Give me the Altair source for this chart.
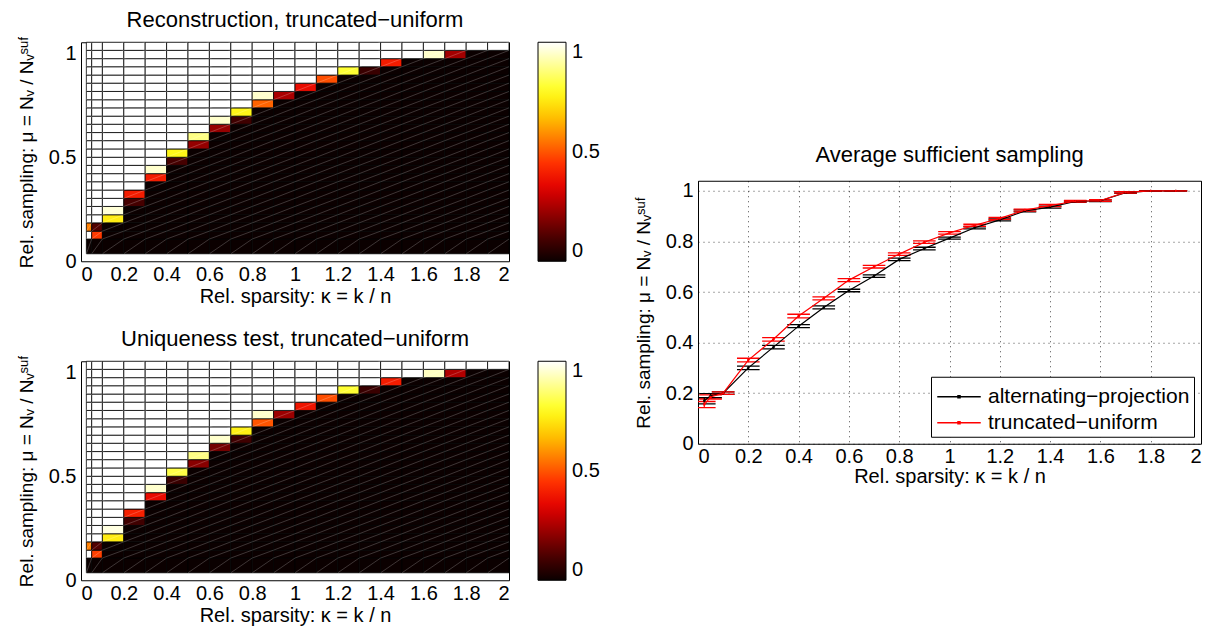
import altair as alt
import pandas as pd

FONT = "Liberation Sans"

# ---------------- heatmap grid (cell edges) ----------------
x_edges = [0.025, 0.05, 0.1, 0.2, 0.3, 0.4, 0.5, 0.6, 0.7, 0.8, 0.9, 1.0,
           1.1, 1.2, 1.3, 1.4, 1.5, 1.6, 1.7, 1.8, 1.9, 2.0]
y_edges = [0.036, 0.107, 0.145, 0.185, 0.224, 0.264, 0.303, 0.343, 0.383,
           0.422, 0.462, 0.501, 0.541, 0.581, 0.620, 0.660, 0.699, 0.739,
           0.778, 0.818, 0.858, 0.897, 0.937, 0.976, 1.016, 1.055]

# per column: first row index from which the success rate is 1 (below: 0)
recon_threshold = [1, 3, 5, 7, 10, 12, 14, 16, 17, 19, 19, 20, 21, 22, 22,
                   23, 23, 24, 24, 24, 24]
# partial-success cells: column index, row index, value
recon_col = [0, 1, 1, 2, 2, 3, 3, 4, 4, 5, 5, 6, 6, 7, 7, 8, 8, 9, 9, 10,
             11, 12, 13, 14, 15, 17, 18]
recon_row = [2, 1, 2, 3, 4, 5, 6, 8, 9, 10, 11, 12, 13, 14, 15, 15, 16, 17,
             18, 18, 19, 20, 21, 21, 22, 23, 23]
recon_val = [0.56, 0.46, 0.12, 0.74, 0.96, 0.10, 0.40, 0.40, 0.95, 0.10,
             0.76, 0.22, 0.88, 0.22, 0.95, 0.09, 0.76, 0.52, 0.95, 0.25,
             0.36, 0.49, 0.80, 0.08, 0.40, 0.95, 0.24]

uniq_threshold = [1, 3, 5, 7, 10, 12, 14, 16, 17, 19, 19, 20, 21, 22, 22,
                  23, 23, 24, 24, 24, 24]
uniq_col = [0, 1, 1, 2, 2, 3, 3, 4, 4, 5, 5, 6, 6, 7, 7, 8, 8, 9, 9, 10,
            11, 12, 13, 14, 15, 17, 18]
uniq_row = [2, 1, 2, 3, 4, 5, 6, 8, 9, 10, 11, 12, 13, 14, 15, 15, 16, 17,
            18, 18, 19, 20, 21, 21, 22, 23, 23]
uniq_val = [0.56, 0.47, 0.12, 0.74, 0.97, 0.09, 0.41, 0.36, 0.95, 0.08,
            0.82, 0.20, 0.88, 0.17, 0.95, 0.09, 0.75, 0.50, 0.95, 0.23,
            0.38, 0.49, 0.80, 0.08, 0.40, 0.94, 0.26]

# ---------------- average sufficient sampling ----------------
kappa = [0.025, 0.05, 0.1, 0.2, 0.3, 0.4, 0.5, 0.6, 0.7, 0.8, 0.9, 1.0,
         1.1, 1.2, 1.3, 1.4, 1.5, 1.6, 1.7, 1.8, 1.9]
ap_mu = [0.170, 0.190, 0.200, 0.300, 0.382, 0.465, 0.539, 0.606, 0.663,
         0.729, 0.772, 0.813, 0.854, 0.885, 0.921, 0.936, 0.958, 0.961,
         0.993, 1.000, 1.000]
ap_err = [0.012, 0.008, 0.005, 0.007, 0.007, 0.006, 0.006, 0.005, 0.005,
          0.005, 0.005, 0.004, 0.004, 0.004, 0.004, 0.004, 0.003, 0.003,
          0.003, 0.001, 0.000]
tu_mu = [0.155, 0.185, 0.200, 0.331, 0.413, 0.505, 0.575, 0.647, 0.700,
         0.750, 0.797, 0.834, 0.864, 0.891, 0.924, 0.942, 0.959, 0.962,
         0.994, 1.000, 1.000]
tu_err = [0.012, 0.008, 0.005, 0.007, 0.007, 0.007, 0.006, 0.006, 0.005,
          0.005, 0.005, 0.005, 0.004, 0.004, 0.004, 0.004, 0.003, 0.003,
          0.003, 0.001, 0.000]
series_names = ["alternating\u2212projection", "truncated\u2212uniform"]
series_colors = ["#000000", "#ff0000"]

X_TITLE = "Rel. sparsity: \u03ba = k / n"
Y_TITLE = "Rel. sampling: \u03bc = N\u1d65 / N\u1d65\u02e2\u1d58\u1da0"

# 'hot' colour map sampled at ten evenly spaced stops
HOT_RANGE = ["#0b0000", "#4b0000", "#970000", "#e20000", "#ff2f00",
             "#ff7b00", "#ffc600", "#ffff1c", "#ffff8e", "#ffffff"]

LBL = 20      # tick label size
TTL = 20      # x axis title size
YTTL = 19     # y axis title size
HEAD = 22     # chart title size
HM_W, HM_H = 428, 219


def heat_df(thr, oc, orow, oval):
    recs = []
    for ci in range(len(x_edges) - 1):
        for ri in range(len(y_edges) - 1):
            recs.append(dict(c=ci, r=ri, x0=x_edges[ci], x1=x_edges[ci + 1],
                             y0=y_edges[ri], y1=y_edges[ri + 1],
                             v=1.0 if ri >= thr[ci] else 0.0))
    df = pd.DataFrame(recs)
    for c, r, val in zip(oc, orow, oval):
        df.loc[(df.c == c) & (df.r == r), "v"] = val
    return df


def heatmap(title, df):
    xs = alt.Scale(domain=[0, 2], nice=False, zero=False)
    ys = alt.Scale(domain=[0, 1.055], nice=False, zero=False)
    base = alt.Chart(df)
    rect = base.mark_rect(stroke="black", strokeWidth=0.8).encode(
        x=alt.X("x0:Q", scale=xs,
                axis=alt.Axis(values=[0, 0.2, 0.4, 0.6, 0.8, 1, 1.2, 1.4, 1.6, 1.8, 2],
                              format="~g", title=X_TITLE, grid=False, ticks=False,
                              domain=False, labelPadding=3, titlePadding=2)),
        x2="x1:Q",
        y=alt.Y("y0:Q", scale=ys,
                axis=alt.Axis(values=[0, 0.5, 1], format="~g", title=Y_TITLE,
                              titleFontSize=YTTL, grid=False, ticks=False, domain=False,
                              labelPadding=5, titlePadding=12)),
        y2="y1:Q",
        color=alt.Color("v:Q", scale=alt.Scale(domain=[0, 1], range=HOT_RANGE,
                                               interpolate="rgb"),
                        legend=alt.Legend(title=None, orient="right", direction="vertical",
                                          gradientLength=HM_H, gradientThickness=28,
                                          gradientStrokeColor="black", gradientStrokeWidth=1,
                                          values=[0, 0.5, 1], format="~g",
                                          labelFontSize=LBL, labelFont=FONT,
                                          labelColor="black", labelOffset=6,
                                          offset=29, padding=0)),
    )
    seam = base.mark_rule(color="white", opacity=0.35, strokeWidth=0.6).encode(
        x=alt.X("x0:Q", scale=xs), x2="x1:Q",
        y=alt.Y("y0:Q", scale=ys), y2="y1:Q",
    )
    return alt.layer(rect, seam).properties(
        width=HM_W, height=HM_H,
        title=alt.TitleParams(title, fontSize=HEAD, font=FONT, fontWeight="normal",
                              offset=4, color="black", frame="group"))


top = heatmap("Reconstruction, truncated\u2212uniform",
              heat_df(recon_threshold, recon_col, recon_row, recon_val))
bottom = heatmap("Uniqueness test, truncated\u2212uniform",
                 heat_df(uniq_threshold, uniq_col, uniq_row, uniq_val))

left = alt.vconcat(top, bottom, spacing=20).resolve_scale(color="independent")

# ---------------- right chart ----------------
avg = pd.concat([
    pd.DataFrame({"kappa": kappa, "mu": ap_mu, "err": ap_err, "series": series_names[0]}),
    pd.DataFrame({"kappa": kappa, "mu": tu_mu, "err": tu_err, "series": series_names[1]}),
], ignore_index=True)

rx = alt.Scale(domain=[0, 2], nice=False, zero=False)
ry = alt.Scale(domain=[0, 1.04], nice=False, zero=False)
col_enc = alt.Color(
    "series:N", scale=alt.Scale(domain=series_names, range=series_colors),
    legend=alt.Legend(title=None, orient="bottom-right", offset=7,
                      labelFontSize=21, labelFont=FONT, labelColor="black",
                      symbolType="M-1.45,0H1.45M-0.07,-0.07H0.07V0.07H-0.07Z",
                      symbolSize=900, symbolStrokeWidth=1.4, symbolOffset=8,
                      strokeColor="black", fillColor="white",
                      padding=4, rowPadding=0, labelOffset=13, labelLimit=400,
                      cornerRadius=0))
base = alt.Chart(avg).transform_calculate(
    xl="datum.kappa - 0.045", xr="datum.kappa + 0.045",
    yu="datum.mu + datum.err", yl="datum.mu - datum.err")

line = base.mark_line(strokeWidth=1.2, clip=True).encode(
    x=alt.X("kappa:Q", scale=rx,
            axis=alt.Axis(values=[0, 0.2, 0.4, 0.6, 0.8, 1, 1.2, 1.4, 1.6, 1.8, 2],
                          format="~g", title=X_TITLE, grid=True, ticks=False,
                          domain=False, labelPadding=3, titlePadding=0)),
    y=alt.Y("mu:Q", scale=ry,
            axis=alt.Axis(values=[0, 0.2, 0.4, 0.6, 0.8, 1], format="~g", title=Y_TITLE,
                          titleFontSize=YTTL, grid=True, ticks=False, domain=False,
                          labelPadding=5, titlePadding=12)),
    color=col_enc,
    order="kappa:Q",
)
pts = base.mark_point(filled=True, size=6, opacity=1, clip=True).encode(
    x=alt.X("kappa:Q", scale=rx), y=alt.Y("mu:Q", scale=ry), color=col_enc)
vbar = base.mark_rule(strokeWidth=1.2, clip=True).encode(
    x=alt.X("kappa:Q", scale=rx), y=alt.Y("yl:Q", scale=ry), y2="yu:Q", color=col_enc)
cap_u = base.mark_rule(strokeWidth=1.3, clip=True).encode(
    x=alt.X("xl:Q", scale=rx), x2="xr:Q", y=alt.Y("yu:Q", scale=ry), color=col_enc)
cap_l = base.mark_rule(strokeWidth=1.3, clip=True).encode(
    x=alt.X("xl:Q", scale=rx), x2="xr:Q", y=alt.Y("yl:Q", scale=ry), color=col_enc)

right = alt.layer(cap_u, cap_l, vbar, line, pts).properties(
    width=503, height=263,
    title=alt.TitleParams("Average sufficient sampling", fontSize=HEAD, font=FONT,
                          fontWeight="normal", offset=14, color="black", frame="group"))

chart = alt.hconcat(left, right, spacing=32, center=True).resolve_scale(
    color="independent"
).properties(
    padding={"left": 8, "top": 0, "right": 0, "bottom": 0}
).configure_view(
    stroke="black", strokeWidth=1
).configure_axis(
    labelFont=FONT, titleFont=FONT, labelFontSize=LBL, titleFontSize=TTL,
    labelColor="black", titleColor="black", titleFontWeight="normal",
    gridColor="#000000", gridDash=[1, 4], gridOpacity=0.7, gridWidth=1
)

chart.save("out.html", embed_options={"renderer": "svg", "actions": False})
